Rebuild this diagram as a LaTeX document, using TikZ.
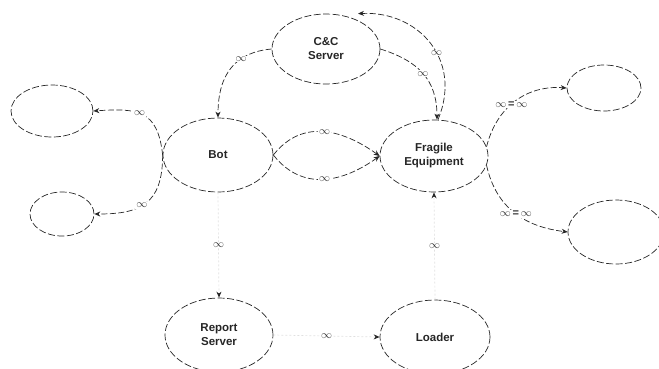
\documentclass[tikz,border=0pt]{standalone}
\usepackage{fontspec}
\setmainfont{Liberation Sans}
\usetikzlibrary{shapes.geometric,arrows.meta}
\tikzset{
  ell/.style={ellipse, draw=black!85, line width=0.7pt, dash pattern=on 7pt off 2.5pt, inner sep=0pt, font=\bfseries\fontsize{11.5}{14}\selectfont, align=center, text=black!85},
  conn/.style={draw=black!85, line width=0.7pt, dash pattern=on 6pt off 2.5pt, -{Stealth[length=6pt,width=5pt]}},
  faint/.style={draw=black!12, line width=0.7pt, dash pattern=on 2pt off 2pt, -{Stealth[length=6pt,width=5pt,black!85]}},
  lab/.style={fill=white, inner sep=1pt, text=black!80, font=\fontsize{11}{11}\selectfont},
}
\begin{document}
\begin{tikzpicture}[x=1pt,y=-1pt]
\useasboundingbox (0,0) rectangle (659,368);
\clip (0,0) rectangle (659,368);
% nodes
\node[ell, minimum width=108pt, minimum height=70pt] (cc) at (326,49) {C\&C\\Server};
\node[ell, minimum width=110pt, minimum height=74pt] (bot) at (218,155) {Bot};
\node[ell, minimum width=108pt, minimum height=72pt] (frag) at (434,156) {Fragile\\Equipment};
\node[ell, minimum width=82pt, minimum height=52pt] (tl) at (52,111) {};
\node[ell, minimum width=64pt, minimum height=44pt] (bl) at (62,214) {};
\node[ell, minimum width=74pt, minimum height=46pt] (tr) at (604,88) {};
\node[ell, minimum width=96pt, minimum height=64pt] (br) at (616,232) {};
\node[ell, minimum width=108pt, minimum height=74pt] (rep) at (219,335) {Report\\Server};
\node[ell, minimum width=110pt, minimum height=74pt] (load) at (435,337) {Loader};
% connectors
\draw[conn] (cc.west) .. controls +(-35,3) and +(0,-45) .. node[lab, pos=0.35] {$\infty$} (bot.north);
\draw[conn] (cc.east) .. controls +(38,12) and +(0,-40) .. node[lab, pos=0.5] {$\infty$} ([xshift=3pt]frag.north);
\draw[conn] ([xshift=4pt]frag.north) .. controls +(25,-60) and +(60,-3) .. node[lab, pos=0.42] {$\infty$} ([xshift=32pt]cc.north);
\draw[conn] (bot.east) .. controls +(30,-38) and +(-35,-25) .. node[lab, pos=0.5] {$\infty$} (frag.west);
\draw[conn] (bot.east) .. controls +(30,38) and +(-35,25) .. node[lab, pos=0.5] {$\infty$} (frag.west);
\draw[conn] (bot.west) .. controls +(-5,-45) and +(45,-3) .. node[lab, pos=0.55] {$\infty$} (tl.east);
\draw[conn] (bot.west) .. controls +(0,50) and +(45,0) .. node[lab, pos=0.55] {$\infty$} (bl.east);
\draw[conn] (frag.10) .. controls +(10,-40) and +(-40,-3) .. node[lab, pos=0.45] {$\infty$\,\textbf{=}\,$\infty$} (tr.west);
\draw[conn] (frag.-10) .. controls +(10,45) and +(-40,-5) .. node[lab, pos=0.5] {$\infty$\,\textbf{=}\,$\infty$} (br.west);
\draw[faint] (bot.south) -- node[lab] {$\infty$} (rep.north);
\draw[faint] (rep.east) -- node[lab] {$\infty$} (load.west);
\draw[faint] (load.north) -- node[lab] {$\infty$} (frag.south);
\end{tikzpicture}
\end{document}
